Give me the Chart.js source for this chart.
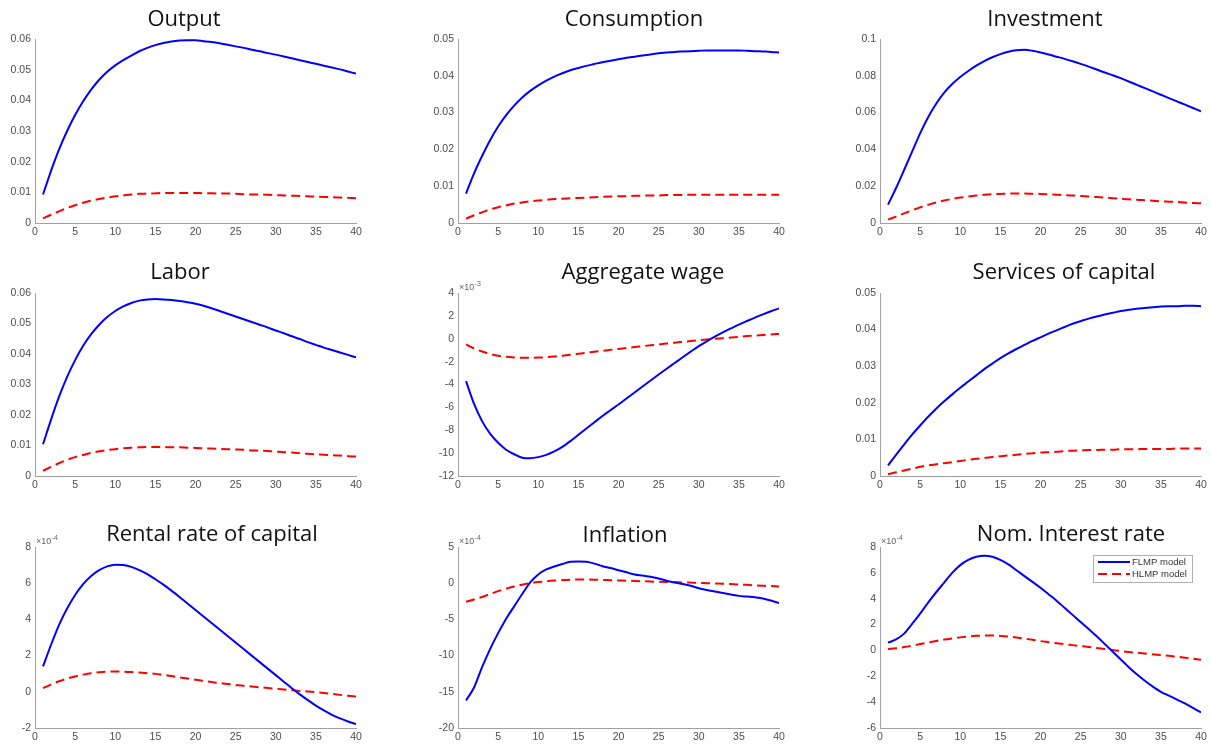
<!DOCTYPE html>
<html><head><meta charset="utf-8">
<script src="https://cdn.jsdelivr.net/npm/chart.js@4.4.1/dist/chart.umd.min.js"></script>
<style>
html,body{margin:0;padding:0;background:#fff;}
#wrap{position:relative;width:1211px;height:749px;overflow:hidden;background:#fff;}
#wrap canvas{position:absolute;}
</style></head><body><div id="wrap"></div>
<script>
// ---- data ----
const periods=[1,2,3,4,5,6,7,8,9,10,11,12,13,14,15,16,17,18,19,20,21,22,23,24,25,26,27,28,29,30,31,32,33,34,35,36,37,38,39,40];
const seriesLabels=['FLMP model','HLMP model'];
const titles=['Output','Consumption','Investment','Labor','Aggregate wage','Services of capital','Rental rate of capital','Inflation','Nom. Interest rate'];

const outputFLMP=[0.0093,0.0170,0.0240,0.0300,0.0352,0.0397,0.0435,0.0467,0.0493,0.0514,0.0531,0.0546,0.0560,0.0571,0.0580,0.0587,0.0592,0.0595,0.0596,0.0596,0.0593,0.0590,0.0586,0.0581,0.0576,0.0571,0.0565,0.0560,0.0554,0.0549,0.0543,0.0537,0.0531,0.0525,0.0519,0.0513,0.0507,0.0501,0.0494,0.0487];
const outputHLMP=[0.0015,0.0027,0.0038,0.0049,0.0058,0.0066,0.0073,0.0078,0.0083,0.0087,0.0090,0.0093,0.0095,0.0096,0.0097,0.0098,0.0098,0.0098,0.0098,0.0098,0.0097,0.0097,0.0096,0.0096,0.0095,0.0094,0.0093,0.0093,0.0092,0.0091,0.0090,0.0089,0.0088,0.0087,0.0086,0.0085,0.0084,0.0083,0.0082,0.0081];
const consFLMP=[0.0080,0.0135,0.0182,0.0225,0.0262,0.0293,0.0319,0.0341,0.0359,0.0374,0.0387,0.0398,0.0407,0.0415,0.0421,0.0427,0.0432,0.0437,0.0441,0.0445,0.0449,0.0452,0.0455,0.0458,0.0461,0.0463,0.0465,0.0466,0.0467,0.0468,0.0469,0.0469,0.0469,0.0469,0.0469,0.0468,0.0467,0.0466,0.0465,0.0463];
const consHLMP=[0.0012,0.0021,0.0029,0.0037,0.0043,0.0048,0.0053,0.0056,0.0059,0.0061,0.0063,0.0065,0.0066,0.0067,0.0068,0.0069,0.0070,0.0071,0.0072,0.0073,0.0073,0.0074,0.0074,0.0075,0.0075,0.0076,0.0076,0.0076,0.0077,0.0077,0.0077,0.0077,0.0077,0.0077,0.0077,0.0077,0.0077,0.0077,0.0077,0.0077];
const invFLMP=[0.0100,0.0190,0.0288,0.0388,0.0487,0.0575,0.0648,0.0708,0.0755,0.0793,0.0826,0.0855,0.0880,0.0901,0.0918,0.0931,0.0939,0.0941,0.0936,0.0927,0.0916,0.0904,0.0892,0.0879,0.0865,0.0850,0.0834,0.0818,0.0803,0.0787,0.0769,0.0751,0.0733,0.0715,0.0697,0.0679,0.0661,0.0643,0.0625,0.0607];
const invHLMP=[0.0018,0.0035,0.0052,0.0069,0.0085,0.0099,0.0112,0.0122,0.0131,0.0138,0.0144,0.0149,0.0153,0.0156,0.0158,0.0160,0.0160,0.0160,0.0159,0.0158,0.0156,0.0154,0.0152,0.0150,0.0147,0.0144,0.0141,0.0138,0.0135,0.0132,0.0129,0.0127,0.0124,0.0121,0.0118,0.0116,0.0114,0.0111,0.0109,0.0107];
const laborFLMP=[0.0104,0.0185,0.0260,0.0325,0.0380,0.0427,0.0465,0.0496,0.0521,0.0541,0.0556,0.0567,0.0575,0.0579,0.0580,0.0579,0.0577,0.0574,0.0570,0.0565,0.0558,0.0550,0.0541,0.0532,0.0523,0.0514,0.0505,0.0496,0.0487,0.0477,0.0468,0.0458,0.0449,0.0439,0.0430,0.0421,0.0413,0.0405,0.0397,0.0389];
const laborHLMP=[0.0017,0.0030,0.0042,0.0053,0.0062,0.0069,0.0076,0.0081,0.0085,0.0088,0.0091,0.0093,0.0094,0.0095,0.0095,0.0095,0.0094,0.0094,0.0093,0.0092,0.0091,0.0090,0.0089,0.0088,0.0087,0.0086,0.0084,0.0083,0.0082,0.0080,0.0078,0.0077,0.0075,0.0073,0.0071,0.0070,0.0068,0.0067,0.0065,0.0064];
// x10^-3
const wageFLMP=[-3.7,-5.7,-7.2,-8.3,-9.1,-9.7,-10.1,-10.4,-10.45,-10.35,-10.15,-9.85,-9.45,-8.95,-8.4,-7.85,-7.3,-6.75,-6.25,-5.75,-5.22,-4.7,-4.17,-3.65,-3.13,-2.62,-2.12,-1.62,-1.13,-0.65,-0.22,0.18,0.55,0.9,1.24,1.55,1.85,2.13,2.4,2.65];
const wageHLMP=[-0.5,-0.85,-1.12,-1.33,-1.48,-1.58,-1.64,-1.67,-1.67,-1.65,-1.61,-1.55,-1.48,-1.40,-1.31,-1.22,-1.14,-1.05,-0.97,-0.89,-0.81,-0.73,-0.65,-0.57,-0.5,-0.42,-0.34,-0.27,-0.2,-0.13,-0.07,-0.01,0.05,0.11,0.17,0.23,0.28,0.33,0.38,0.42];
const servFLMP=[0.0029,0.0058,0.0086,0.0113,0.0138,0.0162,0.0184,0.0204,0.0223,0.0241,0.0258,0.0275,0.0292,0.0307,0.0322,0.0335,0.0347,0.0358,0.0369,0.0379,0.0389,0.0398,0.0407,0.0416,0.0423,0.0430,0.0436,0.0441,0.0446,0.0451,0.0454,0.0457,0.0459,0.0461,0.0463,0.0464,0.0464,0.0465,0.0465,0.0464];
const servHLMP=[0.0005,0.0010,0.0015,0.0020,0.0025,0.0029,0.0032,0.0035,0.0038,0.0041,0.0044,0.0047,0.0049,0.0052,0.0054,0.0056,0.0058,0.0060,0.0062,0.0064,0.0065,0.0066,0.0068,0.0069,0.0070,0.0071,0.0071,0.0072,0.0072,0.0073,0.0073,0.0073,0.0074,0.0074,0.0074,0.0074,0.0075,0.0075,0.0075,0.0075];
// x10^-4
const rentFLMP=[1.4,2.6,3.7,4.6,5.35,5.95,6.4,6.72,6.93,7.02,7.0,6.9,6.72,6.5,6.22,5.92,5.59,5.24,4.88,4.52,4.16,3.8,3.44,3.08,2.72,2.36,2.0,1.64,1.28,0.92,0.56,0.2,-0.14,-0.46,-0.76,-1.03,-1.27,-1.47,-1.64,-1.78];
const rentHLMP=[0.2,0.4,0.58,0.73,0.85,0.95,1.03,1.08,1.11,1.12,1.11,1.09,1.06,1.03,0.99,0.93,0.87,0.8,0.73,0.66,0.6,0.54,0.48,0.43,0.38,0.33,0.29,0.25,0.21,0.17,0.13,0.09,0.05,0.02,-0.02,-0.07,-0.12,-0.17,-0.22,-0.26];
const inflFLMP=[-16.2,-14.4,-11.6,-9.1,-6.9,-4.9,-3.2,-1.5,0.1,1.2,1.9,2.3,2.65,2.95,3.0,2.95,2.7,2.35,2.1,1.8,1.5,1.2,1.05,0.9,0.65,0.35,0.1,-0.1,-0.35,-0.7,-0.95,-1.15,-1.35,-1.55,-1.75,-1.85,-1.95,-2.1,-2.4,-2.75];
const inflHLMP=[-2.55,-2.25,-1.9,-1.5,-1.1,-0.75,-0.45,-0.2,0.0,0.15,0.27,0.36,0.43,0.48,0.5,0.5,0.49,0.46,0.42,0.38,0.35,0.31,0.27,0.23,0.2,0.17,0.14,0.11,0.08,0.05,0.01,-0.03,-0.07,-0.12,-0.17,-0.23,-0.29,-0.35,-0.4,-0.45];
const rateFLMP=[0.6,0.85,1.3,2.05,2.85,3.7,4.5,5.25,6.0,6.6,7.0,7.25,7.33,7.25,7.0,6.65,6.2,5.75,5.3,4.85,4.35,3.85,3.3,2.75,2.2,1.65,1.1,0.5,-0.1,-0.7,-1.3,-1.85,-2.35,-2.8,-3.2,-3.5,-3.8,-4.1,-4.45,-4.8];
const rateHLMP=[0.1,0.17,0.26,0.37,0.49,0.61,0.73,0.84,0.93,1.01,1.08,1.13,1.15,1.15,1.12,1.07,1.0,0.92,0.82,0.72,0.64,0.56,0.48,0.41,0.34,0.27,0.19,0.11,0.03,-0.05,-0.12,-0.18,-0.24,-0.3,-0.36,-0.42,-0.49,-0.56,-0.64,-0.72];

// y-axis tick ranges (in plotted units) and exponent labels
const yMin=[0,0,0,0,-12,0,-2,-20,-6];
const yMax=[0.06,0.05,0.1,0.06,4,0.05,8,5,8];
const yStep=[0.01,0.01,0.02,0.01,2,0.01,2,5,2];
const exponents=[0,0,0,0,-3,0,-4,-4,-4];
const xTicks=[0,5,10,15,20,25,30,35,40];

const flmpSeries=[outputFLMP,consFLMP,invFLMP,laborFLMP,wageFLMP,servFLMP,rentFLMP,inflFLMP,rateFLMP];
const hlmpSeries=[outputHLMP,consHLMP,invHLMP,laborHLMP,wageHLMP,servHLMP,rentHLMP,inflHLMP,rateHLMP];

// ---- layout ----
const cols=[{x0:0,x1:400,l:35,r:356},{x0:400,x1:810,l:458,r:779},{x0:810,x1:1211,l:880,r:1201}];
const rows=[{y0:0,y1:250,t:39,b:223},{y0:250,y1:500,t:293,b:476},{y0:500,y1:749,t:547,b:728}];
const titlePos=[[184,26],[634,26],[1045,26],[180,279],[643,279],[1064,279],[212,541],[625,542],[1071,541]];
const legendBox={x:1093,y:555,w:99,h:27};

const BLUE='#0000ff', RED='#ff0000';
const tickFont={family:'Liberation Sans, Arial, sans-serif',size:10.5};
const tickColor='#4d4d4d';
const axisColor='#a0a0a0';

const deco={
  id:'deco',
  afterDraw(chart){
    const o=chart.options.plugins.deco;
    const ctx=chart.ctx;
    ctx.save();
    ctx.fillStyle='#111';
    ctx.font='22px "Open Sans", "Noto Sans", sans-serif';
    ctx.textAlign='center';
    ctx.textBaseline='alphabetic';
    ctx.fillText(o.title,o.tx,o.ty);
    if(o.exp){
      const ca=chart.chartArea;
      ctx.fillStyle='#666';
      ctx.textAlign='left';
      ctx.font='9px "Liberation Sans", Arial, sans-serif';
      const base='\u00d710';
      const x0=ca.left+1, y0=ca.top-3;
      ctx.fillText(base,x0,y0);
      const w=ctx.measureText(base).width;
      ctx.font='7px "Liberation Sans", Arial, sans-serif';
      ctx.fillText(String(o.exp),x0+w+0.5,y0-4);
    }
    if(o.legend){
      const L=o.legend;
      ctx.fillStyle='#fff';
      ctx.fillRect(L.x,L.y,L.w,L.h);
      ctx.strokeStyle='#b0b0b0';
      ctx.lineWidth=1;
      ctx.strokeRect(L.x+0.5,L.y+0.5,L.w,L.h);
      const ds=chart.data.datasets;
      ctx.font='9.5px "Liberation Sans", Arial, sans-serif';
      ctx.textBaseline='middle';
      ctx.textAlign='left';
      ds.forEach((d,i)=>{
        const yy=L.y+7+i*12;
        ctx.strokeStyle=d.borderColor;
        ctx.lineWidth=2;
        ctx.setLineDash(d.borderDash||[]);
        ctx.beginPath();ctx.moveTo(L.x+5,yy);ctx.lineTo(L.x+37,yy);ctx.stroke();
        ctx.setLineDash([]);
        ctx.fillStyle='#333';
        ctx.fillText(d.label,L.x+39,yy+0.5);
      });
    }
    ctx.restore();
  }
};

const wrap=document.getElementById('wrap');
titles.forEach((title,k)=>{
  const c=cols[k%3], r=rows[Math.floor(k/3)];
  const W=c.x1-c.x0, H=r.y1-r.y0;
  const cv=document.createElement('canvas');
  cv.width=W;cv.height=H;
  cv.style.left=c.x0+'px';cv.style.top=r.y0+'px';
  cv.style.width=W+'px';cv.style.height=H+'px';
  wrap.appendChild(cv);
  const yW=c.l-c.x0, xH=r.y1-r.b;
  const exp=exponents[k];
  new Chart(cv,{
    type:'line',
    data:{datasets:[
      {label:seriesLabels[0],data:periods.map((p,i)=>({x:p,y:flmpSeries[k][i]})),borderColor:BLUE,borderWidth:2,pointRadius:0,fill:false,cubicInterpolationMode:'monotone'},
      {label:seriesLabels[1],data:periods.map((p,i)=>({x:p,y:hlmpSeries[k][i]})),borderColor:RED,borderWidth:2,borderDash:[9,5],pointRadius:0,fill:false,cubicInterpolationMode:'monotone'}
    ]},
    options:{
      responsive:false,animation:false,devicePixelRatio:1,
      layout:{padding:{top:r.t-r.y0,right:c.x1-c.r,left:0,bottom:0}},
      plugins:{
        legend:{display:false},tooltip:{enabled:false},title:{display:false},
        deco:{title:title,tx:titlePos[k][0]-c.x0,ty:titlePos[k][1]-r.y0,exp:exp,
          legend:(k===8)?{x:legendBox.x-c.x0,y:legendBox.y-r.y0,w:legendBox.w,h:legendBox.h}:null}
      },
      scales:{
        x:{type:'linear',min:xTicks[0],max:xTicks[xTicks.length-1],
          afterBuildTicks(s){s.ticks=xTicks.map(v=>({value:v}));},
          ticks:{font:tickFont,color:tickColor,padding:3,maxRotation:0,autoSkip:false,callback:v=>String(v)},
          grid:{display:false,drawTicks:false},
          border:{display:true,color:axisColor,width:1},
          afterFit(s){s.height=xH;}
        },
        y:{type:'linear',min:yMin[k],max:yMax[k],
          ticks:{stepSize:yStep[k],font:tickFont,color:tickColor,padding:4,
            callback:v=>exp?String(Math.round(v)):String(+v.toFixed(4))},
          grid:{display:false,drawTicks:false},
          border:{display:true,color:axisColor,width:1},
          afterFit(s){s.width=yW;}
        }
      }
    },
    plugins:[deco]
  });
});
</script>
</body></html>
